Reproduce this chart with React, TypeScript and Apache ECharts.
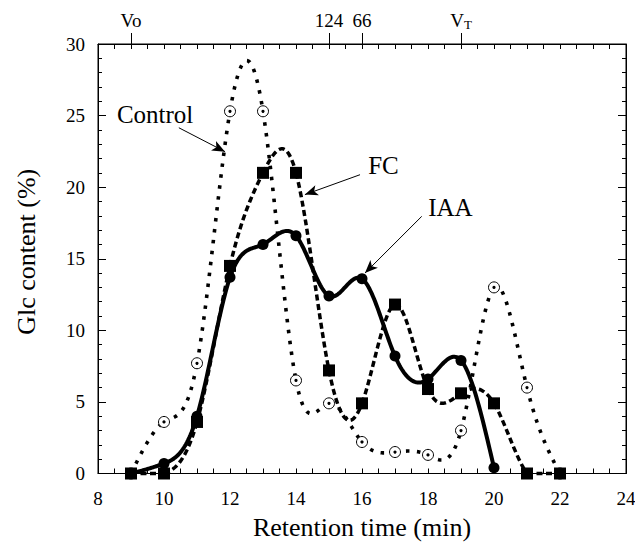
import React, { useEffect, useRef } from 'react';
import * as echarts from 'echarts';

// ---- data ----
const retentionTimes = [9, 10, 11, 12, 13, 14, 15, 16, 17, 18, 19, 20, 21, 22];
const controlValues = [0, 3.6, 7.7, 25.3, 25.3, 6.5, 4.9, 2.2, 1.5, 1.3, 3.0, 13.0, 6.0, 0];
const fcValues = [0, 0, 3.6, 14.5, 21.0, 21.0, 7.2, 4.9, 11.8, 5.9, 5.6, 4.9, 0, 0];
const iaaTimes = [9, 10, 11, 12, 13, 14, 15, 16, 17, 18, 19, 20];
const iaaValues = [0, 0.7, 4.0, 13.7, 16.0, 16.6, 12.4, 13.6, 8.2, 6.6, 7.9, 0.4];

const xMin = 8;
const xMax = 24;
const xStep = 2;
const yMin = 0;
const yMax = 30;
const yStep = 5;

const topMarkerTimes = [9, 15, 16, 19];
const topMarkerLabels = ['Vo', '124', '66', 'VT'];

const seriesNames = ['Control', 'FC', 'IAA'];

// annotation anchors (data coordinates)
const labelAnchors: [number, number][] = [[9.73, 25.1], [16.65, 21.5], [18.68, 18.6]];
const arrowStarts: [number, number][] = [[10.45, 24.15], [15.94, 20.87], [17.81, 17.96]];
const arrowEnds: [number, number][] = [[11.85, 22.48], [14.27, 19.48], [16.09, 14.0]];

const FONT = '"Liberation Serif", "Times New Roman", Times, serif';

function splineSecondDerivs(xs: number[], ys: number[]): number[] {
  const n = xs.length;
  const m = new Array(n).fill(0);
  if (n < 3) return m;
  const cp = new Array(n).fill(0);
  const dp = new Array(n).fill(0);
  for (let i = 1; i < n - 1; i++) {
    const h0 = xs[i] - xs[i - 1];
    const h1 = xs[i + 1] - xs[i];
    const a = h0;
    const b = 2 * (h0 + h1);
    const c = h1;
    const d = 6 * ((ys[i + 1] - ys[i]) / h1 - (ys[i] - ys[i - 1]) / h0);
    const denom = b - a * cp[i - 1];
    cp[i] = c / denom;
    dp[i] = (d - a * dp[i - 1]) / denom;
  }
  for (let i = n - 2; i >= 1; i--) m[i] = dp[i] - cp[i] * m[i + 1];
  return m;
}

function curveSeries(name: string, xs: number[], ys: number[], style: any) {
  const m = splineSecondDerivs(xs, ys);
  return {
    type: 'custom',
    name,
    z: 2,
    silent: true,
    data: xs.map((x, i) => [x, ys[i]]),
    encode: { x: 0, y: 1 },
    renderItem: (params: any, api: any) => {
      const i = params.dataIndex;
      if (i >= xs.length - 1) return null;
      const h = xs[i + 1] - xs[i];
      const pts: number[][] = [];
      const N = 30;
      for (let k = 0; k <= N; k++) {
        const x = xs[i] + (h * k) / N;
        const A = (xs[i + 1] - x) / h;
        const B = (x - xs[i]) / h;
        const y =
          A * ys[i] +
          B * ys[i + 1] +
          (((A * A * A - A) * m[i] + (B * B * B - B) * m[i + 1]) * h * h) / 6;
        pts.push(api.coord([x, Math.max(yMin, y)]));
      }
      return {
        type: 'polyline',
        shape: { points: pts },
        style: Object.assign({ fill: null, stroke: '#000' }, style),
      };
    },
  };
}

function tick(len: number, inside: boolean, extra: any = {}) {
  return Object.assign(
    { show: true, inside, length: len, lineStyle: { color: '#000', width: 1 } },
    extra
  );
}
function minor(len: number, split: number) {
  return { show: true, splitNumber: split, length: len, lineStyle: { color: '#000', width: 1 } };
}
function line(show: boolean) {
  return { show, onZero: false, lineStyle: { color: '#000', width: 1 } };
}

export default function App() {
  const ref = useRef<HTMLDivElement>(null);

  useEffect(() => {
    document.body.style.margin = '0';
    if (!ref.current) return;
    const chart = echarts.init(ref.current, null, { renderer: 'svg' });

    const option: any = {
      animation: false,
      backgroundColor: '#fff',
      grid: {
        left: 98,
        right: 9,
        top: 44,
        bottom: 74.5,
        containLabel: false,
        outerBoundsMode: 'none',
        show: true,
        borderColor: '#000',
        borderWidth: 1,
        backgroundColor: 'transparent',
      },
      xAxis: [
        {
          type: 'value',
          min: xMin,
          max: xMax,
          interval: xStep,
          position: 'bottom',
          name: 'Retention time (min)',
          nameLocation: 'middle',
          nameGap: 41,
          nameTextStyle: { fontFamily: FONT, fontSize: 26, color: '#000' },
          axisLine: line(true),
          axisTick: tick(5, true),
          minorTick: minor(5, 4),
          splitLine: { show: false },
          axisLabel: { show: true, margin: 15, fontFamily: FONT, fontSize: 19, color: '#000' },
        },
        {
          type: 'value',
          min: xMin,
          max: xMax,
          interval: xStep,
          position: 'top',
          axisLine: line(true),
          axisTick: tick(5, true),
          minorTick: minor(5, 4),
          splitLine: { show: false },
          axisLabel: { show: false },
        },
        {
          type: 'value',
          min: xMin,
          max: xMax,
          interval: xStep,
          position: 'top',
          axisLine: line(false),
          axisTick: tick(11, false, { customValues: topMarkerTimes }),
          splitLine: { show: false },
          axisLabel: {
            show: true,
            customValues: topMarkerTimes,
            margin: 13,
            color: '#000',
            fontFamily: FONT,
            fontSize: 19,
            formatter: (v: number) => {
              const idx = topMarkerTimes.indexOf(v);
              if (idx < 0) return '';
              const lab = topMarkerLabels[idx];
              if (lab === 'VT') return '{b|V}{s|T}';
              return '{b|' + lab + '}';
            },
            rich: {
              b: { fontFamily: FONT, fontSize: 19, color: '#000', lineHeight: 22 },
              s: { fontFamily: FONT, fontSize: 13, color: '#000', lineHeight: 10, verticalAlign: 'bottom' },
            },
          },
        },
      ],
      yAxis: [
        {
          type: 'value',
          min: yMin,
          max: yMax,
          interval: yStep,
          position: 'left',
          name: 'Glc content (%)',
          nameLocation: 'middle',
          nameGap: 59,
          nameTextStyle: { fontFamily: FONT, fontSize: 26, color: '#000', padding: [0, 0, 0, 14] },
          axisLine: line(true),
          axisTick: tick(8, true),
          minorTick: minor(4, 5),
          splitLine: { show: false },
          axisLabel: { show: true, margin: 13, fontFamily: FONT, fontSize: 19, color: '#000' },
        },
        {
          type: 'value',
          min: yMin,
          max: yMax,
          interval: yStep,
          position: 'right',
          axisLine: line(true),
          axisTick: tick(8, true),
          minorTick: minor(4, 5),
          splitLine: { show: false },
          axisLabel: { show: false },
        },
      ],
      series: [
        curveSeries(seriesNames[0], retentionTimes, controlValues, {
          lineWidth: 3.6,
          lineDash: [3.5, 7.5],
          lineCap: 'butt',
        }),
        curveSeries(seriesNames[1], retentionTimes, fcValues, {
          lineWidth: 3.5,
          lineDash: [6, 3.5],
          lineCap: 'butt',
        }),
        curveSeries(seriesNames[2], iaaTimes, iaaValues, {
          lineWidth: 4,
          lineJoin: 'round',
        }),
        {
          type: 'scatter',
          name: seriesNames[0] + ' markers',
          z: 3,
          silent: true,
          symbol: 'circle',
          symbolSize: 11,
          itemStyle: { color: '#fff', borderColor: '#000', borderWidth: 1, opacity: 1 },
          data: retentionTimes.map((x, i) => [x, controlValues[i]]),
        },
        {
          type: 'scatter',
          name: seriesNames[2] + ' markers',
          z: 4,
          silent: true,
          symbol: 'circle',
          symbolSize: 11,
          itemStyle: { color: '#000', opacity: 1 },
          data: iaaTimes.map((x, i) => [x, iaaValues[i]]),
        },
        {
          type: 'scatter',
          name: seriesNames[1] + ' markers',
          z: 5,
          silent: true,
          symbol: 'rect',
          symbolSize: 12,
          itemStyle: { color: '#000', opacity: 1 },
          data: retentionTimes.map((x, i) => [x, fcValues[i]]),
        },
        {
          type: 'scatter',
          name: seriesNames[0] + ' centres',
          z: 3.5,
          silent: true,
          symbol: 'circle',
          symbolSize: 3.2,
          itemStyle: { color: '#000', opacity: 1 },
          data: retentionTimes.map((x, i) => [x, controlValues[i]]),
          markLine: {
            silent: true,
            symbol: ['none', 'arrow'],
            symbolSize: [8, 13],
            label: { show: false },
            lineStyle: { color: '#000', width: 1, type: 'solid' },
            emphasis: { disabled: true },
            data: arrowStarts.map((s, i) => [{ coord: s }, { coord: arrowEnds[i] }]),
          },
          markPoint: {
            silent: true,
            symbol: 'rect',
            symbolSize: 1,
            itemStyle: { color: 'rgba(0,0,0,0)' },
            label: {
              show: true,
              position: 'inside',
              color: '#000',
              fontFamily: FONT,
              fontSize: 25,
              formatter: '{b}',
            },
            data: labelAnchors.map((c, i) => ({ name: seriesNames[i], coord: c })),
          },
        },
      ],
    };

    chart.setOption(option);
    return () => chart.dispose();
  }, []);

  return <div ref={ref} style={{ width: 635, height: 548 }} />;
}
